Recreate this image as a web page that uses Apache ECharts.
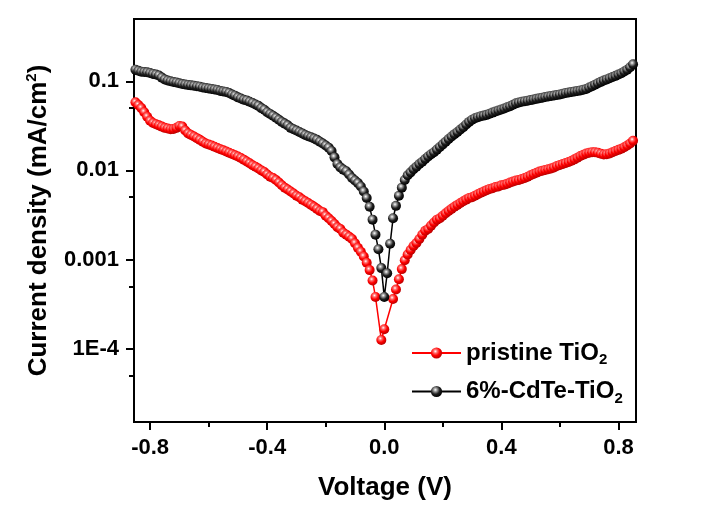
<!DOCTYPE html>
<html>
<head>
<meta charset="utf-8">
<script src="https://cdn.jsdelivr.net/npm/echarts@6/dist/echarts.min.js"></script>
<style>html,body{margin:0;padding:0;background:#fff;}#c{width:722px;height:508px;}</style>
</head>
<body>
<div id="c"></div>
<script>
// Voltage (V)
var voltage = [
  -0.85,-0.84,-0.83,-0.82,-0.81,-0.80,-0.79,-0.78,-0.77,-0.76,
  -0.75,-0.74,-0.73,-0.72,-0.71,-0.70,-0.69,-0.68,-0.67,-0.66,
  -0.65,-0.64,-0.63,-0.62,-0.61,-0.60,-0.59,-0.58,-0.57,-0.56,
  -0.55,-0.54,-0.53,-0.52,-0.51,-0.50,-0.49,-0.48,-0.47,-0.46,
  -0.45,-0.44,-0.43,-0.42,-0.41,-0.40,-0.39,-0.38,-0.37,-0.36,
  -0.35,-0.34,-0.33,-0.32,-0.31,-0.30,-0.29,-0.28,-0.27,-0.26,
  -0.25,-0.24,-0.23,-0.22,-0.21,-0.20,-0.19,-0.18,-0.17,-0.16,
  -0.15,-0.14,-0.13,-0.12,-0.11,-0.10,-0.09,-0.08,-0.07,-0.06,
  -0.05,-0.04,-0.03,-0.02,-0.01,0.00,0.01,0.02,0.03,0.04,
  0.05,0.06,0.07,0.08,0.09,0.10,0.11,0.12,0.13,0.14,
  0.15,0.16,0.17,0.18,0.19,0.20,0.21,0.22,0.23,0.24,
  0.25,0.26,0.27,0.28,0.29,0.30,0.31,0.32,0.33,0.34,
  0.35,0.36,0.37,0.38,0.39,0.40,0.41,0.42,0.43,0.44,
  0.45,0.46,0.47,0.48,0.49,0.50,0.51,0.52,0.53,0.54,
  0.55,0.56,0.57,0.58,0.59,0.60,0.61,0.62,0.63,0.64,
  0.65,0.66,0.67,0.68,0.69,0.70,0.71,0.72,0.73,0.74,
  0.75,0.76,0.77,0.78,0.79,0.80,0.81,0.82,0.83,0.84,
  0.85];
// pristine TiO2 current density (mA/cm2)
var pristine = [
  0.058,0.054,0.050,0.045,0.040,0.036,0.034,0.033,0.032,0.031,
  0.030,0.0295,0.029,0.0292,0.030,0.0315,0.031,0.028,0.026,0.025,
  0.024,0.023,0.022,0.021,0.020,0.0195,0.019,0.0184,0.0178,0.0173,
  0.0168,0.0163,0.0158,0.0153,0.0148,0.0143,0.0138,0.0132,0.0126,0.0120,
  0.0114,0.0110,0.0105,0.0100,0.0096,0.0090,0.0085,0.0082,0.0078,0.0073,
  0.0068,0.0064,0.0061,0.0058,0.0055,0.0052,0.0050,0.0047,0.0045,0.0043,
  0.0041,0.0039,0.0037,0.0035,0.0034,0.0031,0.0029,0.0027,0.0025,0.0023,
  0.0022,0.0020,0.0019,0.0018,0.0017,0.00152,0.00135,0.00122,0.00108,0.00092,
  0.00076,0.00058,0.00038,null,0.000125,0.000165,null,null,0.00036,0.00046,
  0.00060,0.00078,0.00098,0.00114,0.00128,0.00142,0.00153,0.0017,0.0019,0.0021,
  0.0022,0.0024,0.0026,0.0028,0.0029,0.0031,0.0033,0.0035,0.0037,0.0039,
  0.0041,0.0043,0.0045,0.0047,0.0049,0.0050,0.0052,0.0054,0.0056,0.0058,
  0.0060,0.0062,0.0063,0.0065,0.0066,0.0068,0.0069,0.0071,0.0073,0.0075,
  0.0077,0.0078,0.0080,0.0082,0.0085,0.0088,0.0091,0.0094,0.0097,0.0099,
  0.0101,0.0103,0.0105,0.0108,0.0112,0.0115,0.0118,0.0121,0.0124,0.0128,
  0.0133,0.0139,0.0145,0.0150,0.0155,0.0158,0.0160,0.0160,0.0158,0.0154,
  0.0151,0.0152,0.0155,0.0160,0.0165,0.0170,0.0175,0.0182,0.0190,0.0200,
  0.0215];
// 6%-CdTe-TiO2 current density (mA/cm2)
var cdte = [
  0.135,0.131,0.128,0.127,0.126,0.124,0.121,0.119,0.116,0.110,
  0.105,0.102,0.100,0.098,0.097,0.095,0.093,0.092,0.091,0.090,
  0.089,0.088,0.087,0.085,0.084,0.083,0.082,0.081,0.080,0.078,
  0.077,0.076,0.074,0.071,0.069,0.066,0.064,0.062,0.061,0.059,
  0.057,0.055,0.053,0.050,0.048,0.045,0.043,0.041,0.039,0.037,
  0.035,0.0335,0.032,0.030,0.029,0.028,0.027,0.026,0.025,0.0242,
  0.0235,0.0228,0.022,0.021,0.020,0.019,0.018,0.0165,0.0140,0.0118,
  0.0108,0.0102,0.0098,0.0090,0.0082,0.0077,0.0072,0.0066,0.0058,0.0049,
  0.0039,0.0028,0.0019,0.0013,0.0008,0.00038,0.0007,0.0015,0.0029,0.0040,
  0.0052,0.0064,0.0078,0.0088,0.0095,0.0103,0.0110,0.0118,0.0125,0.0134,
  0.0143,0.0152,0.0160,0.0171,0.0183,0.0196,0.0210,0.0225,0.0240,0.0255,
  0.0270,0.0287,0.0305,0.0328,0.0350,0.0370,0.0385,0.0396,0.0405,0.0412,
  0.0420,0.0432,0.0445,0.0458,0.0470,0.0482,0.0495,0.0510,0.0525,0.0545,
  0.0565,0.0578,0.0590,0.0598,0.0605,0.0615,0.0625,0.0635,0.0645,0.0655,
  0.0665,0.0675,0.0685,0.0692,0.0700,0.0712,0.0725,0.0738,0.0750,0.0760,
  0.0770,0.0780,0.0790,0.0805,0.0820,0.0850,0.0880,0.0915,0.0950,0.0985,
  0.1020,0.1050,0.1080,0.1115,0.1150,0.1190,0.1230,0.1290,0.1350,0.1440,
  0.1550];
var xMajorTicks = [-0.8,-0.4,0,0.4,0.8];
var xMinorTicks = [-0.6,-0.2,0.2,0.6];
var yMajorTicks = [1e-4,1e-3,0.01,0.1];
var yTickLabels = ['1E-4','0.001','0.01','0.1'];
var yMinorTicks = [5e-5,5e-4,5e-3,0.05];
var seriesNames = ['pristine TiO2','6%-CdTe-TiO2'];

var FONT = '"Liberation Sans", Arial, Helvetica, sans-serif';
function pairs(arr){ return voltage.map(function(v,i){ return [v, arr[i]]; }); }
function bead(c0,c1,c2,c3){
  return new echarts.graphic.RadialGradient(0.4,0.35,0.65,[
    {offset:0,color:c0},{offset:0.25,color:c1},{offset:0.6,color:c2},{offset:1,color:c3}]);
}
var chart = echarts.init(document.getElementById('c'), null, {renderer:'canvas'});
var xCommon = {type:'value', min:-0.855, max:0.86, splitLine:{show:false}};
var yCommon = {type:'log', logBase:10, min:1.5e-5, max:0.5, splitLine:{show:false}};
chart.setOption({
  backgroundColor:'#ffffff',
  animation:false,
  grid:{left:134,right:86,top:19,bottom:86,show:true,borderColor:'#000',borderWidth:2,backgroundColor:'transparent'},
  legend:{
    orient:'vertical', left:406, top:336, itemWidth:49, itemHeight:14, itemGap:12,
    data:seriesNames,
    formatter:function(n){ return n==='pristine TiO2' ? '{n|pristine TiO}{s|2}' : '{n|6%-CdTe-TiO}{s|2}'; },
    textStyle:{fontFamily:FONT,fontWeight:'bold',color:'#000',
      rich:{n:{fontFamily:FONT,fontWeight:'bold',fontSize:24,lineHeight:29,color:'#000'},
            s:{fontFamily:FONT,fontWeight:'bold',fontSize:15,lineHeight:15,verticalAlign:'bottom',color:'#000'}}}
  },
  xAxis:[
    Object.assign({}, xCommon, {
      position:'bottom',
      name:'Voltage (V)', nameLocation:'middle', nameGap:53,
      nameTextStyle:{fontFamily:FONT,fontWeight:'bold',fontSize:26,color:'#000'},
      axisLine:{show:true,onZero:false,lineStyle:{color:'#000',width:2}},
      axisTick:{show:true,inside:false,length:8,lineStyle:{color:'#000',width:2},customValues:xMajorTicks},
      axisLabel:{show:true,margin:15,fontFamily:FONT,fontWeight:'bold',fontSize:22,color:'#000',customValues:xMajorTicks,
        formatter:function(v){ return v.toFixed(1); }}
    }),
    Object.assign({}, xCommon, {
      position:'bottom',
      axisLine:{show:false,onZero:false},
      axisTick:{show:true,inside:false,length:5,lineStyle:{color:'#000',width:2},customValues:xMinorTicks},
      axisLabel:{show:false}
    })
  ],
  yAxis:[
    Object.assign({}, yCommon, {
      position:'left',
      name:'{a|Current density (mA/cm}{b|2}{a|)}', nameLocation:'middle', nameGap:80, nameRotate:90,
      nameTextStyle:{fontFamily:FONT,fontWeight:'bold',fontSize:26,color:'#000',
        rich:{a:{fontFamily:FONT,fontWeight:'bold',fontSize:26,lineHeight:30,color:'#000'},
              b:{fontFamily:FONT,fontWeight:'bold',fontSize:15,lineHeight:15,verticalAlign:'top',color:'#000'}}},
      axisLine:{show:true,onZero:false,lineStyle:{color:'#000',width:2}},
      axisTick:{show:true,inside:false,length:8,lineStyle:{color:'#000',width:2},customValues:yMajorTicks},
      axisLabel:{show:true,margin:15,fontFamily:FONT,fontWeight:'bold',fontSize:22,color:'#000',customValues:yMajorTicks,
        formatter:function(v){ var i = yMajorTicks.findIndex(function(t){return Math.abs(Math.log10(t)-Math.log10(v))<1e-6;}); return i>=0?yTickLabels[i]:''; }}
    }),
    Object.assign({}, yCommon, {
      position:'left',
      axisLine:{show:false,onZero:false},
      axisTick:{show:true,inside:false,length:5,lineStyle:{color:'#000',width:2},customValues:yMinorTicks},
      axisLabel:{show:false}
    })
  ],
  series:[
    {name:seriesNames[0], type:'line', xAxisIndex:0, yAxisIndex:0, data:pairs(pristine), connectNulls:true,
     symbol:'circle', symbolSize:10, showSymbol:true, showAllSymbol:true,
     lineStyle:{color:'#ff0000',width:1.5},
     itemStyle:{color:bead('#ffffff','#ff7070','#ff0000','#b80000'),borderWidth:0}},
    {name:seriesNames[1], type:'line', xAxisIndex:0, yAxisIndex:0, data:pairs(cdte), connectNulls:true,
     symbol:'circle', symbolSize:10, showSymbol:true, showAllSymbol:true,
     lineStyle:{color:'#000000',width:1.5},
     itemStyle:{color:bead('#ffffff','#9a9a9a','#202020','#000000'),borderWidth:0}}
  ]
});
</script>
</body>
</html>
